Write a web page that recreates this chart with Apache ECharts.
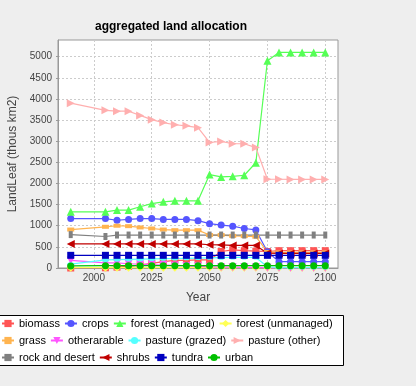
<!DOCTYPE html>
<html>
<head>
<meta charset="utf-8">
<script src="https://cdn.jsdelivr.net/npm/echarts@6/dist/echarts.min.js"></script>
<style>
html,body{margin:0;padding:0;background:#eeeeee;}
#c{width:416px;height:386px;}
</style>
</head>
<body>
<div id="c"></div>
<script>
const years = [1990,2005,2010,2015,2020,2025,2030,2035,2040,2045,2050,2055,2060,2065,2070,2075,2080,2085,2090,2095,2100];
const xTicks = [2000,2025,2050,2075,2100];
const yTicks = [0,500,1000,1500,2000,2500,3000,3500,4000,4500,5000];

const biomass = [0,5,20,40,70,110,150,180,180,190,190,390,430,410,400,390,410,410,410,410,410];
const crops = [1170,1170,1130,1150,1170,1170,1150,1150,1150,1120,1050,1015,990,935,900,385,150,150,150,150,150];
const forestManaged = [1330,1330,1370,1370,1450,1525,1565,1590,1590,1590,2210,2155,2170,2195,2490,4905,5100,5100,5100,5100,5100];
const forestUnmanaged = [8,8,8,8,8,8,8,8,8,8,8,8,8,8,8,8,8,8,8,8,8];
const grass = [910,975,1000,990,960,935,910,895,895,895,780,780,760,755,740,380,370,370,370,370,370];
const otherarable = [180,120,120,100,90,80,70,60,50,40,30,20,20,15,15,5,5,5,5,5,5];
const pastureGrazed = [90,190,200,205,210,215,220,225,230,235,240,245,250,250,250,30,10,10,10,10,10];
const pastureOther = [3900,3730,3710,3710,3610,3510,3440,3390,3365,3320,2970,2995,2940,2940,2850,2100,2100,2095,2095,2095,2095];
const rockDesert = [790,745,780,780,780,780,780,780,780,780,780,780,780,780,780,780,780,780,780,780,780];
const shrubs = [570,570,570,570,570,570,570,570,570,570,550,545,535,535,535,350,345,345,345,345,345];
const tundra = [300,300,300,300,300,300,300,300,300,300,300,300,300,300,300,300,300,300,300,300,300];
const urban = [50,55,55,55,55,55,55,55,55,55,55,55,55,55,55,55,55,55,55,55,55];

const seriesNames = ['biomass','crops','forest (managed)','forest (unmanaged)','grass','otherarable','pasture (grazed)','pasture (other)','rock and desert','shrubs','tundra','urban'];
const seriesValues = [biomass,crops,forestManaged,forestUnmanaged,grass,otherarable,pastureGrazed,pastureOther,rockDesert,shrubs,tundra,urban];

const styles = [
  {color:'#FF5555', symbol:'rect', size:7, rot:0},
  {color:'#5555FF', symbol:'circle', size:7, rot:0},
  {color:'#55FF55', symbol:'triangle', size:8, rot:0},
  {color:'#FFFF55', symbol:'diamond', size:8, rot:0},
  {color:'#FFB450', symbol:'rect', size:[7,4], rot:0},
  {color:'#FF55FF', symbol:'triangle', size:8, rot:180},
  {color:'#55FFFF', symbol:'circle', size:[7,4], rot:0},
  {color:'#FFAFAF', symbol:'triangle', size:8, rot:-90},
  {color:'#808080', symbol:'rect', size:[4,7], rot:0},
  {color:'#C00000', symbol:'triangle', size:8, rot:90},
  {color:'#0000C0', symbol:'rect', size:7, rot:0},
  {color:'#00C000', symbol:'circle', size:7, rot:0}
];

const series = seriesNames.map((name, i) => ({
  name: name,
  type: 'line',
  data: years.map((y, j) => [y, seriesValues[i][j]]),
  symbol: styles[i].symbol,
  symbolSize: styles[i].size,
  symbolRotate: styles[i].rot,
  showAllSymbol: true,
  color: styles[i].color,
  itemStyle: {color: styles[i].color, opacity: 1},
  lineStyle: {color: styles[i].color, width: 1.2},
  emphasis: {disabled: true},
  animation: false
}));

function legendRow(names, top) {
  return {
    data: names,
    left: 1, top: top,
    orient: 'horizontal',
    padding: 0,
    itemWidth: 12, itemHeight: 9, itemGap: 4,
    textStyle: {fontFamily: 'Liberation Sans', fontSize: 11, color: '#000'},
    selectedMode: false
  };
}

const plain = v => String(v);

const chart = echarts.init(document.getElementById('c'), null, {renderer: 'canvas'});
chart.setOption({
  backgroundColor: '#eeeeee',
  animation: false,
  title: {
    text: 'aggregated land allocation',
    left: 171, top: 21, padding: 0,
    textAlign: 'center',
    textStyle: {fontFamily: 'Liberation Sans', fontSize: 12, fontWeight: 'bold', color: '#000'}
  },
  graphic: [{
    type: 'rect', z: -1,
    shape: {x: -0.5, y: 315.5, width: 344, height: 50},
    style: {fill: '#ffffff', stroke: '#000000', lineWidth: 1}
  }],
  legend: [
    legendRow(seriesNames.slice(0,4), 318),
    legendRow(seriesNames.slice(4,8), 335),
    legendRow(seriesNames.slice(8,12), 352)
  ],
  grid: {
    left: 58, top: 40, width: 280, height: 228,
    outerBoundsMode: 'none', containLabel: false,
    show: true, backgroundColor: '#ffffff', borderColor: '#999999', borderWidth: 1
  },
  xAxis: {
    type: 'value', min: 1984.5, max: 2105.5,
    name: 'Year', nameLocation: 'middle', nameGap: 24,
    nameTextStyle: {fontFamily: 'Liberation Sans', fontSize: 12, color: '#444'},
    axisLine: {show: true, lineStyle: {color: '#999999'}},
    axisTick: {show: true, length: 2, lineStyle: {color: '#999999'}, customValues: xTicks},
    axisLabel: {customValues: xTicks, formatter: plain, margin: 5, fontFamily: 'Liberation Sans', fontSize: 10, color: '#444'},
    splitLine: {show: true, lineStyle: {color: '#cccccc', type: [2,2]}}
  },
  yAxis: {
    type: 'value', min: 0, max: 5395,
    name: 'LandLeaf (thous km2)', nameLocation: 'middle', nameGap: 30,
    nameTextStyle: {fontFamily: 'Liberation Sans', fontSize: 12, color: '#444'},
    axisLine: {show: true, lineStyle: {color: '#999999'}},
    axisTick: {show: true, length: 2, lineStyle: {color: '#999999'}, customValues: yTicks},
    axisLabel: {customValues: yTicks, formatter: plain, margin: 6, fontFamily: 'Liberation Sans', fontSize: 10, color: '#444'},
    splitLine: {show: true, lineStyle: {color: '#cccccc', type: [2,2]}}
  },
  series: series
});
</script>
</body>
</html>
